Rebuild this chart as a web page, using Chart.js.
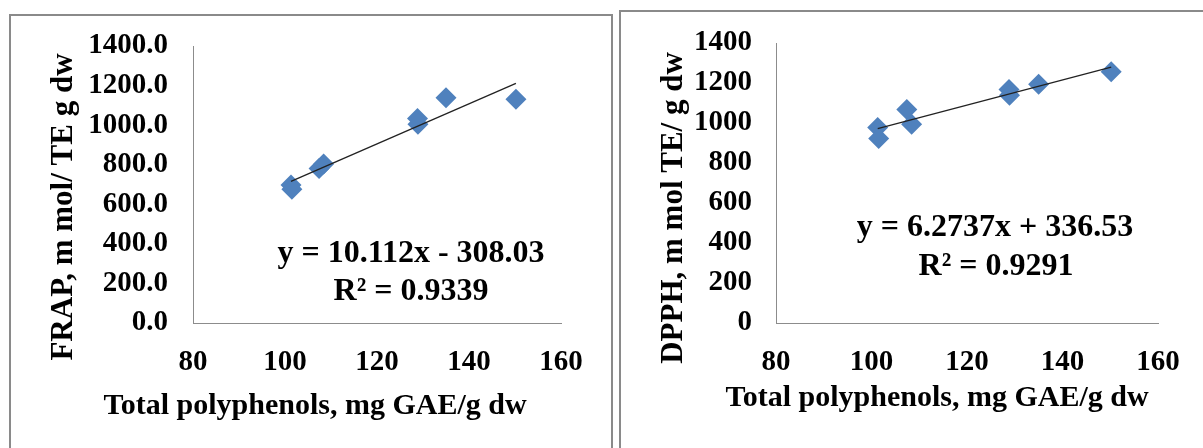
<!DOCTYPE html>
<html>
<head>
<meta charset="utf-8">
<script src="https://cdn.jsdelivr.net/npm/chart.js@4.4.1/dist/chart.umd.min.js"></script>
<style>
  html, body { margin: 0; padding: 0; background: #fff; }
  body { width: 1203px; height: 448px; overflow: hidden; position: relative; }
  .frame { position: absolute; border: 2px solid #8a8a8a; background: #fff; box-sizing: border-box; }
  #f1 { left: 9px; top: 14px; width: 604px; height: 500px; }
  #f2 { left: 619px; top: 10px; width: 640px; height: 500px; }
  .box { position: absolute; top: 0; height: 448px; }
  #b1 { left: 0; width: 615px; }
  #b2 { left: 615px; width: 588px; }
</style>
</head>
<body>
<div class="frame" id="f1"></div>
<div class="frame" id="f2"></div>
<div class="box" id="b1"><canvas id="c1"></canvas></div>
<div class="box" id="b2"><canvas id="c2"></canvas></div>
<script>
"use strict"

// valori
const polyphenols = [101.3, 101.5, 107.4, 108.4, 128.8, 128.9, 135.0, 150.2];
const frap = [697, 676, 781, 803, 1033, 1004, 1139, 1131];
const dpph = [978, 923, 1068, 994, 1168, 1139, 1194, 1256];
const trendX = [101.3, 150.2];
const frapTrend = [716, 1211];
const dpphTrend = [972, 1279];
const xTicks = [80, 100, 120, 140, 160];
const yTicks = [0, 200, 400, 600, 800, 1000, 1200, 1400];

const FAMILY = '"Liberation Serif", "Times New Roman", serif';

function scritte(items) {
    return {
        id: 'scritte',
        afterDraw(chart) {
            const ctx = chart.ctx;
            for (const t of items) {
                ctx.save();
                ctx.fillStyle = '#000';
                ctx.font = 'bold ' + t.size + 'px ' + FAMILY;
                ctx.textAlign = 'center';
                ctx.textBaseline = 'alphabetic';
                ctx.translate(t.x, t.y);
                if (t.rot) ctx.rotate(-Math.PI / 2);
                ctx.fillText(t.text, 0, 0);
                ctx.restore();
            }
        }
    };
}

function creaGrafico(id, values, trend, lay, decimals, items) {
    let ctx = document.getElementById(id).getContext('2d');
    let tickFont = { family: FAMILY, size: 29, weight: 'bold' };
    return new Chart(ctx, {
        type: 'scatter',
        data: {
            datasets: [{
                data: trendX.map((x, i) => ({ x: x, y: trend[i] })),
                showLine: true,
                borderColor: '#222222',
                borderWidth: 1.3,
                pointRadius: 0
            }, {
                data: polyphenols.map((x, i) => ({ x: x, y: values[i] })),
                pointStyle: 'rectRot',
                pointRadius: 10.5,
                backgroundColor: '#4f81bd',
                borderColor: '#4f81bd',
                borderWidth: 0
            }]
        },
        options: {
            responsive: true,
            maintainAspectRatio: false,
            animation: false,
            layout: { padding: { left: 0, top: lay.top, right: lay.right, bottom: 0 } },
            plugins: { legend: { display: false }, tooltip: { enabled: false } },
            scales: {
                x: {
                    type: 'linear',
                    min: 80, max: 160,
                    afterBuildTicks: s => { s.ticks = xTicks.map(v => ({ value: v })); },
                    afterFit: s => { s.height = 125; },
                    grid: { display: false, drawTicks: false },
                    border: { display: true, color: '#8c8c8c', width: 1 },
                    ticks: { color: '#000', font: tickFont, padding: 22, maxRotation: 0 }
                },
                y: {
                    type: 'linear',
                    min: 0, max: 1400,
                    afterBuildTicks: s => { s.ticks = yTicks.map(v => ({ value: v })); },
                    afterFit: s => { s.width = lay.left; },
                    grid: { display: false, drawTicks: false },
                    border: { display: true, color: '#8c8c8c', width: 1 },
                    ticks: { color: '#000', font: tickFont, padding: lay.pad,
                             callback: v => v.toFixed(decimals) }
                }
            }
        },
        plugins: [scritte(items)]
    });
}

creaGrafico('c1', frap, frapTrend, { left: 193, top: 46, right: 54, pad: 25 }, 1, [
    { text: 'y = 10.112x - 308.03', x: 411, y: 262, size: 32 },
    { text: 'R\u00b2 = 0.9339', x: 411, y: 300, size: 32 },
    { text: 'Total polyphenols, mg GAE/g dw', x: 315, y: 414, size: 30 },
    { text: 'FRAP, m mol/ TE g dw', x: 72, y: 207, size: 31, rot: true }
]);

creaGrafico('c2', dpph, dpphTrend, { left: 161, top: 43, right: 45, pad: 24 }, 0, [
    { text: 'y = 6.2737x + 336.53', x: 380, y: 236, size: 32 },
    { text: 'R\u00b2 = 0.9291', x: 381, y: 275, size: 32 },
    { text: 'Total polyphenols, mg GAE/g dw', x: 322, y: 406, size: 30 },
    { text: 'DPPH, m mol TE/ g dw', x: 67, y: 208, size: 31, rot: true }
]);
</script>
</body>
</html>
